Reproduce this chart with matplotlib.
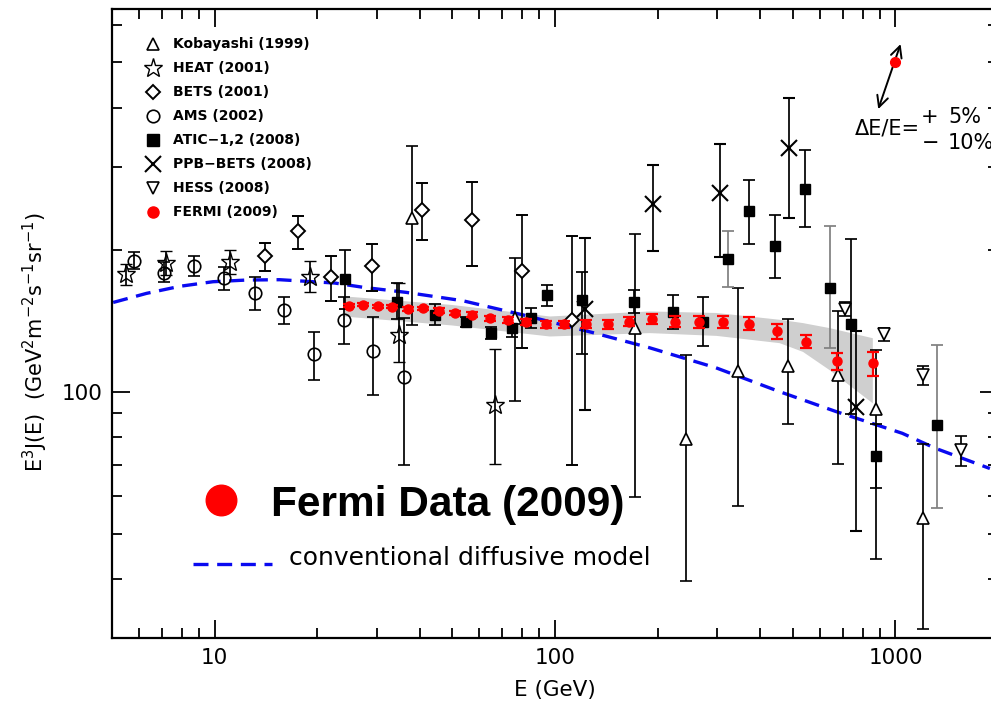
import matplotlib
matplotlib.use('Agg')
import matplotlib.pyplot as plt
import numpy as np
from matplotlib.ticker import LogLocator, FuncFormatter, NullFormatter

# ---------------- data ----------------
kob_E = [38.0, 76.4, 172.0, 243.0, 344.0, 484.0, 680.0, 879.0, 1204.0]
kob_J = [233.9, 143.2, 136.8, 79.3, 110.5, 113.6, 108.7, 91.8, 53.9]
kob_lo = [138.6, 95.7, 59.7, 39.7, 57.3, 85.3, 70.4, 44.1, 31.3]
kob_hi = [331.7, 192.4, 215.8, 119.6, 165.8, 143.0, 148.4, 122.8, 77.4]

heat_E = [5.49, 7.22, 11.13, 19.02, 34.76, 66.8]
heat_J = [177.8, 187.4, 188.4, 175.5, 131.9, 93.8]
heat_lo = [168.5, 177.0, 177.8, 163.0, 115.9, 70.1]
heat_hi = [186.8, 199.0, 199.5, 189.8, 170.1, 123.4]

bets_E = [14.04, 17.61, 22.03, 29.03, 40.7, 57.2, 80.1, 112.3]
bets_J = [194.1, 219.0, 175.0, 185.3, 242.8, 231.9, 180.7, 141.8]
bets_lo = [180.7, 201.1, 156.0, 163.3, 209.5, 184.7, 124.0, 69.8]
bets_hi = [206.8, 236.1, 194.1, 206.1, 276.9, 279.2, 237.6, 213.6]

ams_E = [5.81, 7.11, 8.71, 10.66, 13.12, 15.99, 19.58, 23.98, 29.22, 35.95]
ams_J = [189.8, 178.7, 185.3, 174.4, 162.0, 149.2, 120.4, 142.1, 121.9, 107.2]
ams_lo = [182.3, 170.7, 175.8, 164.6, 148.9, 139.1, 106.1, 126.0, 98.5, 69.8]
ams_hi = [197.9, 188.4, 194.6, 183.8, 175.0, 159.0, 133.9, 158.6, 144.1, 143.7]

atic_E = [24.13, 34.45, 44.54, 54.65, 64.8, 74.9, 84.8, 94.6, 119.8, 171.1,
          221.6, 271.3, 322.7, 370.1, 442.3, 541.6, 642.6, 742.1, 878.6, 1321.0]
atic_J = [173.5, 155.4, 145.3, 140.6, 133.5, 136.3, 143.7, 160.6, 156.7, 155.4,
          147.7, 140.6, 191.4, 241.6, 203.4, 269.2, 166.3, 139.5, 73.0, 85.0]
atic_lo = [149.7, 142.5, 138.4, 137.5, 129.6, 130.4, 136.8, 152.1, 120.0, 146.6,
           135.6, 125.0, 166.6, 206.1, 174.4, 223.8, 123.6, 89.7, 62.4, 56.6]
atic_hi = [200.1, 169.9, 153.4, 143.8, 137.5, 142.5, 150.4, 168.7, 179.6, 164.6,
           160.4, 158.6, 219.4, 281.4, 236.8, 325.2, 224.4, 210.5, 85.4, 125.6]
atic_grey = [12, 16, 19]

ppb_E = [122.9, 193.5, 305.7, 487.1, 767.4]
ppb_J = [149.7, 250.9, 264.6, 328.9, 92.8]
ppb_lo = [91.5, 198.8, 193.1, 233.9, 50.7]
ppb_hi = [212.3, 303.0, 335.5, 419.4, 134.6]

hess_E = [710.9, 925.3, 1204.0, 1560.0]
hess_J = [149.7, 132.4, 108.7, 75.1]
hess_lo = [144.8, 128.0, 103.5, 69.6]
hess_hi = [154.8, 136.8, 113.3, 80.7]

fermi_E = [24.85, 27.31, 30.23, 33.22, 37.01, 40.96, 45.54, 50.73, 57.02, 64.26,
           72.7, 82.3, 94.2, 106.6, 123.5, 142.8, 165.4, 192.2, 225.6, 265.3,
           311.9, 371.9, 447.7, 547.5, 675.0, 859.0]
fermi_J = [152.1, 152.9, 151.7, 151.4, 149.7, 150.2, 148.7, 146.8, 145.6, 143.2,
           141.8, 140.6, 139.1, 139.1, 139.5, 139.1, 140.9, 142.5, 140.9, 140.6,
           140.6, 139.5, 134.4, 127.7, 116.1, 114.8]
fermi_lo = [151.0, 151.8, 150.6, 150.2, 148.4, 148.8, 147.2, 145.2, 143.9, 141.4,
            139.8, 138.5, 136.8, 136.6, 136.8, 136.2, 137.7, 139.0, 137.2, 136.7,
            136.3, 135.0, 129.6, 123.6, 111.4, 108.2]
fermi_hi = [153.2, 154.0, 152.8, 152.6, 151.0, 151.6, 150.2, 148.4, 147.3, 145.0,
            143.8, 142.7, 141.4, 141.6, 142.2, 142.0, 144.1, 146.0, 144.6, 144.5,
            144.9, 144.0, 139.2, 131.9, 121.0, 121.3]

band_E = [23.82, 49.6, 96.3, 189.3, 297.0, 455.3, 533.0, 638.3, 855.0]
band_hi = [159.8, 153.2, 144.8, 148.4, 147.3, 142.5, 140.2, 136.8, 130.2]
band_lo = [144.8, 138.6, 131.3, 133.5, 131.7, 127.1, 121.8, 111.4, 94.7]

model_E = [5.04, 6.31, 7.91, 9.90, 12.40, 15.53, 22.56, 27.31, 36.6, 53.6,
           80.4, 129.1, 189.3, 297.0, 455.3, 667.6, 1047.0, 1312.0, 1893.0]
model_J = [154.7, 161.7, 167.4, 171.2, 172.6, 172.9, 170.1, 166.6, 162.5, 156.0,
           145.6, 133.5, 124.0, 112.4, 100.1, 90.8, 81.6, 75.8, 68.7]

# energy-scale illustration (dE/E = +5% / -10%)
escale_pt = (1000.0, 500.0)
escale_lo = (890.0, 398.0)
escale_hi = (1035.0, 547.0)

legend_labels = ['Kobayashi (1999)', 'HEAT (2001)', 'BETS (2001)', 'AMS (2002)',
                 'ATIC\u22121,2 (2008)', 'PPB\u2212BETS (2008)', 'HESS (2008)', 'FERMI (2009)']

# ---------------- figure ----------------
W, H = 991, 710
fig = plt.figure(figsize=(W / 100, H / 100), dpi=100)
ax_l, ax_r, ax_t, ax_b = 112, 998, 8.8, 638
ax = fig.add_axes([ax_l / W, (H - ax_b) / H, (ax_r - ax_l) / W, (ax_b - ax_t) / H])
ax.set_xscale('log')
ax.set_yscale('log')
ax.set_xlim(5, 2000)
ax.set_ylim(30, 650)

def yerr(J, lo, hi):
    J, lo, hi = np.asarray(J), np.asarray(lo), np.asarray(hi)
    return [J - lo, hi - J]

# systematic band
ax.fill_between(band_E, band_lo, band_hi, color='#cfcfcf', lw=0, zorder=1)

# model
ax.plot(model_E, model_J, color='#0a0af0', lw=2.4, ls=(0, (4.5, 2.6)), zorder=2)

eb = dict(ecolor='black', elinewidth=1.25, capsize=4.2, capthick=1.25, zorder=3, ls='none')

ax.errorbar(kob_E, kob_J, yerr=yerr(kob_J, kob_lo, kob_hi), fmt='^', ms=9,
            mfc='white', mec='black', mew=1.2, **eb)
ax.errorbar(heat_E, heat_J, yerr=yerr(heat_J, heat_lo, heat_hi), fmt='*', ms=14,
            mfc='none', mec='black', mew=1.0, **eb)
ax.errorbar(bets_E, bets_J, yerr=yerr(bets_J, bets_lo, bets_hi), fmt='D', ms=7,
            mfc='white', mec='black', mew=1.4, **eb)
ax.errorbar(ams_E, ams_J, yerr=yerr(ams_J, ams_lo, ams_hi), fmt='o', ms=9,
            mfc='none', mec='black', mew=1.2, **eb)

aE, aJ, alo, ahi = map(np.asarray, (atic_E, atic_J, atic_lo, atic_hi))
grey = np.zeros(len(aE), bool)
grey[atic_grey] = True
eb_grey = dict(eb)
eb_grey['ecolor'] = '#808080'
ax.errorbar(aE[~grey], aJ[~grey], yerr=yerr(aJ[~grey], alo[~grey], ahi[~grey]), fmt='s', ms=6.5,
            mfc='black', mec='black', **eb)
ax.errorbar(aE[grey], aJ[grey], yerr=yerr(aJ[grey], alo[grey], ahi[grey]), fmt='s', ms=6.5,
            mfc='black', mec='black', **eb_grey)

ax.errorbar(ppb_E, ppb_J, yerr=yerr(ppb_J, ppb_lo, ppb_hi), fmt='x', ms=11,
            mec='black', mew=1.5, **eb)
ax.errorbar(hess_E, hess_J, yerr=yerr(hess_J, hess_lo, hess_hi), fmt='v', ms=9,
            mfc='white', mec='black', mew=1.2, **eb)

ax.errorbar(fermi_E, fermi_J, yerr=yerr(fermi_J, fermi_lo, fermi_hi), fmt='o', ms=6.5,
            color='#ff0000', ecolor='#ff0000', elinewidth=1.6, capsize=4.2, capthick=1.6,
            zorder=4, ls='none')

# ---------------- axes style ----------------
for axis in (ax.xaxis, ax.yaxis):
    axis.set_major_locator(LogLocator(base=10, numticks=10))
    axis.set_minor_locator(LogLocator(base=10, subs=np.arange(2, 10), numticks=20))
    axis.set_major_formatter(FuncFormatter(lambda v, p: f'{v:g}'))
    axis.set_minor_formatter(NullFormatter())
ax.tick_params(which='both', direction='in', top=True, right=True, width=1.3,
               labelsize=15.5, pad=7, colors='black')
ax.tick_params(which='major', length=13)
ax.tick_params(which='minor', length=7.5)
for s in ax.spines.values():
    s.set_linewidth(1.6)

ax.set_xlabel('E (GeV)', fontsize=15.5, labelpad=9)
ax.set_ylabel(r'E$^3$J(E)  (GeV$^2$m$^{-2}$s$^{-1}$sr$^{-1}$)', fontsize=15)
ax.yaxis.set_label_coords((50 - ax_l) / (ax_r - ax_l), 0.47)

# ---------------- legend (manual) ----------------
def axfrac(px, py):
    return (px - ax_l) / (ax_r - ax_l), (ax_b - py) / (ax_b - ax_t)

leg_styles = [
    dict(marker='^', ms=9, mfc='white', mec='black', mew=1.2),
    dict(marker='*', ms=14, mfc='none', mec='black', mew=1.0),
    dict(marker='D', ms=7, mfc='white', mec='black', mew=1.4),
    dict(marker='o', ms=9, mfc='none', mec='black', mew=1.2),
    dict(marker='s', ms=8, mfc='black', mec='black'),
    dict(marker='x', ms=11, mec='black', mew=1.5),
    dict(marker='v', ms=9, mfc='white', mec='black', mew=1.2),
    dict(marker='o', ms=8, mfc='#ff0000', mec='#ff0000'),
]
for i, (lab, st) in enumerate(zip(legend_labels, leg_styles)):
    py = 44 + 24 * i
    mx, my = axfrac(152.7, py)
    tx, _ = axfrac(173.3, py)
    ax.plot([mx], [my], transform=ax.transAxes, ls='none', clip_on=False, zorder=5, **st)
    ax.text(tx, my, lab, transform=ax.transAxes, fontsize=10, fontweight='bold',
            va='center', ha='left', family='DejaVu Sans')

# big label
bx, by = axfrac(221, 500)
ax.plot([bx], [by], transform=ax.transAxes, marker='o', ms=22, color='#ff0000', ls='none')
tx, ty = axfrac(271, 515.7)
ax.text(tx, ty, 'Fermi Data (2009)', transform=ax.transAxes, fontsize=30.5,
        fontweight='bold', family='Liberation Sans', va='baseline', ha='left')

x0, yl = axfrac(193, 564)
x1, _ = axfrac(272, 564)
ax.plot([x0, x1], [yl, yl], transform=ax.transAxes, color='#0a0af0', lw=2.4,
        ls=(0, (4.5, 2.6)))
tx, ty = axfrac(289, 565)
ax.text(tx, ty, 'conventional diffusive model', transform=ax.transAxes, fontsize=18,
        va='baseline', ha='left', family='DejaVu Sans')

# energy scale annotation
ax.annotate('', xy=escale_hi, xytext=escale_lo,
            arrowprops=dict(arrowstyle='<->', color='black', lw=1.4, mutation_scale=20,
                            shrinkA=0, shrinkB=0))
ax.plot([escale_pt[0]], [escale_pt[1]], marker='o', ms=7, color='#ff0000', zorder=5)
tx, ty = axfrac(855, 128)
ax.text(tx, ty, '\u0394E/E=', transform=ax.transAxes, fontsize=15, va='center', ha='left')
tx, ty = axfrac(921, 117)
ax.text(tx, ty, '+', transform=ax.transAxes, fontsize=15, va='center', ha='left')
tx, ty = axfrac(948, 117)
ax.text(tx, ty, '5%', transform=ax.transAxes, fontsize=15, va='center', ha='left')
tx, ty = axfrac(922, 143)
ax.text(tx, ty, '\u2212', transform=ax.transAxes, fontsize=15, va='center', ha='left')
tx, ty = axfrac(948, 143)
ax.text(tx, ty, '10%', transform=ax.transAxes, fontsize=15, va='center', ha='left')

fig.savefig('out.png', dpi=100)
